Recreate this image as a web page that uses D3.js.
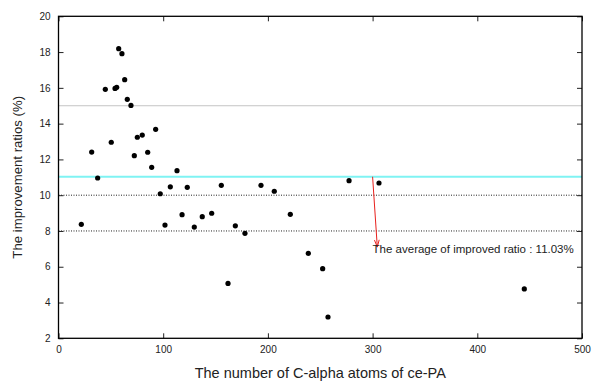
<!DOCTYPE html>
<html>
<head>
<meta charset="utf-8">
<script src="https://cdn.jsdelivr.net/npm/d3@7"></script>
<style>
  html, body { margin: 0; padding: 0; background: #fff; }
  svg { display: block; }
  text { font-family: "Liberation Sans", Arial, Helvetica, sans-serif; fill: #222; }
</style>
</head>
<body>
<svg id="chart" width="593" height="381"></svg>
<script>
// Number of C-alpha atoms in each ce-PA alignment
const atomCounts = [21.8, 31.7, 37.4, 44.7, 50.4, 54.0, 55.6, 57.5, 60.6, 63.2,
                    65.7, 69.2, 72.4, 75.3, 80.0, 85.2, 89.0, 92.8, 97.2, 101.7,
                    106.8, 113.2, 118.0, 123.0, 129.7, 137.3, 146.3, 155.5, 161.9, 168.9,
                    178.1, 193.4, 206.1, 221.4, 238.6, 252.3, 257.4, 277.5, 306.1, 444.9];
// Improvement ratio (%) for each alignment
const improvementRatios = [8.37, 12.41, 10.96, 15.92, 12.96, 15.97, 16.03, 18.19, 17.91, 16.46,
                           15.36, 15.02, 12.21, 13.24, 13.36, 12.40, 11.56, 13.68, 10.08, 8.33,
                           10.47, 11.37, 8.91, 10.44, 8.22, 8.80, 8.99, 10.55, 5.07, 8.29,
                           7.87, 10.55, 10.22, 8.93, 6.75, 5.89, 3.19, 10.81, 10.68, 4.76];
// Axis ticks
const xTicks = [0, 100, 200, 300, 400, 500];
const yTicks = [2, 4, 6, 8, 10, 12, 14, 16, 18, 20];
// Dotted reference levels
const refLevelsGray = [15];
const refLevelsDark = [10, 8];
// Average improved ratio and its annotation
const avgRatio = 11.03;
const arrowStart = [300, 11.03];
const arrowEnd = [304.5, 7.1];
const avgLabel = "The average of improved ratio : 11.03%";

const svg = d3.select("#chart");
const m = { left: 58.5, right: 582, top: 16.3, bottom: 338.3 };

const x = d3.scaleLinear().domain([0, 500]).range([m.left, m.right]);
const y = d3.scaleLinear().domain([2, 20]).range([m.bottom, m.top]);

// Reference lines
svg.append("g").selectAll("line").data(refLevelsGray).join("line")
  .attr("x1", x(0)).attr("x2", x(500))
  .attr("y1", d => y(d)).attr("y2", d => y(d))
  .attr("stroke", "#888").attr("stroke-width", 1).attr("stroke-dasharray", "1,1");
svg.append("g").selectAll("line").data(refLevelsDark).join("line")
  .attr("x1", x(0)).attr("x2", x(500))
  .attr("y1", d => y(d)).attr("y2", d => y(d))
  .attr("stroke", "#222").attr("stroke-width", 1).attr("stroke-dasharray", "1,1.5");

// Average line
svg.append("line")
  .attr("x1", x(0)).attr("x2", x(500))
  .attr("y1", y(avgRatio)).attr("y2", y(avgRatio))
  .attr("stroke", "#7ff3f3").attr("stroke-width", 2);

// Axes (ticks point inward)
const fmt = d3.format("d");
const gB = svg.append("g").attr("transform", `translate(0,${m.bottom})`)
  .call(d3.axisBottom(x).tickValues(xTicks).tickFormat(fmt).tickSize(-5).tickPadding(8));
const gT = svg.append("g").attr("transform", `translate(0,${m.top})`)
  .call(d3.axisTop(x).tickValues(xTicks).tickFormat("").tickSize(-5));
const gL = svg.append("g").attr("transform", `translate(${m.left},0)`)
  .call(d3.axisLeft(y).tickValues(yTicks).tickFormat(fmt).tickSize(-5).tickPadding(8));
const gR = svg.append("g").attr("transform", `translate(${m.right},0)`)
  .call(d3.axisRight(y).tickValues(yTicks).tickFormat("").tickSize(-5));
[gB, gT, gL, gR].forEach(g => {
  g.select(".domain").remove();
  g.selectAll(".tick line").attr("stroke", "#222");
  g.selectAll("text").attr("font-size", 10).attr("font-family", null).attr("fill", "#222");
});

// Frame
svg.append("rect")
  .attr("x", m.left).attr("y", m.top)
  .attr("width", m.right - m.left).attr("height", m.bottom - m.top)
  .attr("fill", "none").attr("stroke", "#000").attr("stroke-width", 1.3);

// Points
svg.append("g").selectAll("circle").data(atomCounts).join("circle")
  .attr("cx", d => x(d))
  .attr("cy", (d, i) => y(improvementRatios[i]))
  .attr("r", 2.6).attr("fill", "#000");

// Arrow to the average annotation
const ax0 = x(arrowStart[0]), ay0 = y(arrowStart[1]);
const ax1 = x(arrowEnd[0]), ay1 = y(arrowEnd[1]);
svg.append("line")
  .attr("x1", ax0).attr("y1", ay0).attr("x2", ax1).attr("y2", ay1)
  .attr("stroke", "#e8201c").attr("stroke-width", 1);
const ang = Math.atan2(ay1 - ay0, ax1 - ax0);
const headLen = 7.5, headAng = 0.32;
const wing = s => [ax1 - headLen * Math.cos(ang + s * headAng), ay1 - headLen * Math.sin(ang + s * headAng)];
svg.append("path")
  .attr("d", d3.line()([wing(1), [ax1, ay1], wing(-1)]))
  .attr("fill", "none").attr("stroke", "#e8201c").attr("stroke-width", 1);

svg.append("text")
  .attr("x", ax0).attr("y", 252.5)
  .attr("font-size", 11.5)
  .attr("fill", "#333")
  .text(avgLabel);

// Axis titles
svg.append("text")
  .attr("x", (m.left + m.right) / 2).attr("y", 377.5)
  .attr("text-anchor", "middle").attr("font-size", 14.5)
  .text("The number of C-alpha atoms of ce-PA");
svg.append("text")
  .attr("transform", `translate(22,${(m.top + m.bottom) / 2}) rotate(-90)`)
  .attr("text-anchor", "middle").attr("font-size", 13.2)
  .text("The improvement ratios (%)");
</script>
</body>
</html>
